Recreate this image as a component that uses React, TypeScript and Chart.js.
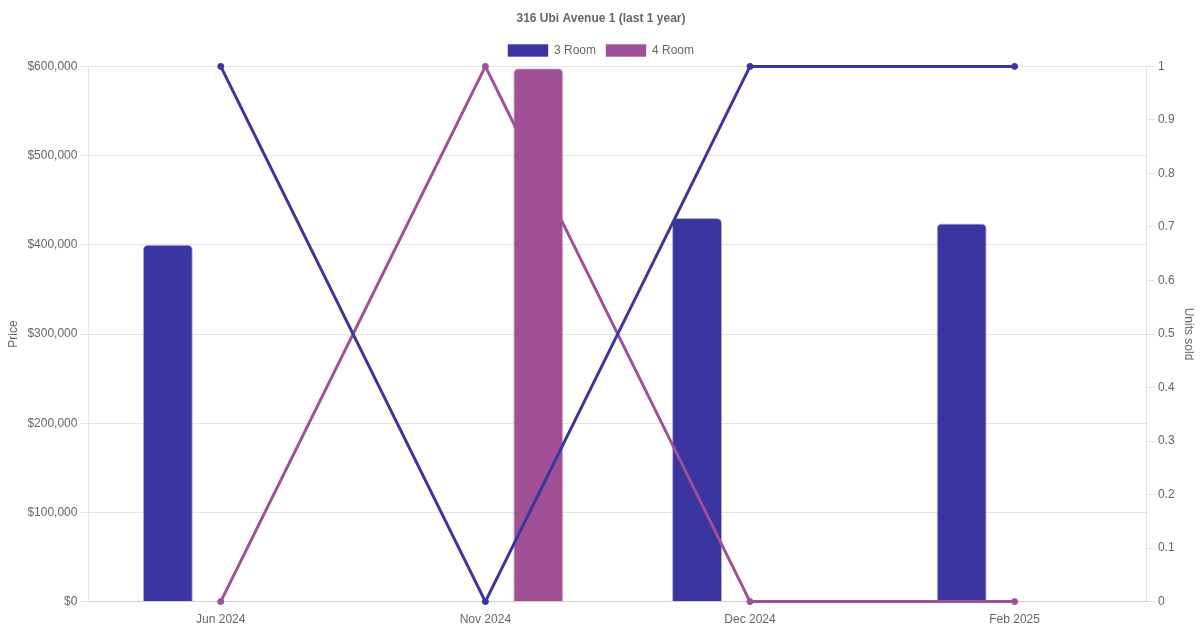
import React, { useEffect, useRef } from "react";
import Chart from "chart.js/auto";

const months = ["Jun 2024", "Nov 2024", "Dec 2024", "Feb 2025"];
const price3Room = [400000, null, 430000, 424000];
const price4Room = [null, 598000, null, null];
const units3Room = [1, 0, 1, 1];
const units4Room = [0, 1, 0, 0];

const ROOM3_COLOR = "rgb(58,53,160)";
const ROOM4_COLOR = "rgb(160,80,148)";

const App = () => {
  const chartRef = useRef<HTMLCanvasElement>(null);

  useEffect(() => {
    if (!chartRef.current) return;
    const ctx = chartRef.current.getContext("2d");
    if (!ctx) return;

    const priceChart = new Chart(ctx, {
      type: "bar",
      data: {
        labels: months,
        datasets: [
          {
            type: "line",
            label: "3 Room units",
            data: units3Room,
            yAxisID: "units",
            borderColor: ROOM3_COLOR,
            backgroundColor: ROOM3_COLOR,
            borderWidth: 3,
            pointRadius: 3,
            pointBorderWidth: 1,
            fill: false,
            clip: false,
            order: 0,
          },
          {
            type: "line",
            label: "4 Room units",
            data: units4Room,
            yAxisID: "units",
            borderColor: ROOM4_COLOR,
            backgroundColor: ROOM4_COLOR,
            borderWidth: 3,
            pointRadius: 3,
            pointBorderWidth: 1,
            fill: false,
            clip: false,
            order: 0,
          },
          {
            label: "3 Room",
            data: price3Room,
            yAxisID: "price",
            backgroundColor: ROOM3_COLOR,
            borderColor: "rgba(58,53,160,0.4)",
            borderWidth: 1,
            borderRadius: 5,
            borderSkipped: "bottom",
            maxBarThickness: 50,
            order: 1,
          },
          {
            label: "4 Room",
            data: price4Room,
            yAxisID: "price",
            backgroundColor: ROOM4_COLOR,
            borderColor: "rgba(160,80,148,0.4)",
            borderWidth: 1,
            borderRadius: 5,
            borderSkipped: "bottom",
            maxBarThickness: 50,
            order: 1,
          },
        ],
      },
      options: {
        responsive: true,
        maintainAspectRatio: false,
        animation: false,
        layout: { padding: { top: 2, right: 0, left: 2, bottom: 0 } },
        plugins: {
          title: {
            display: true,
            text: "316 Ubi Avenue 1 (last 1 year)",
            color: "#666",
            font: { size: 12, weight: "bold" },
            padding: { top: 9, bottom: 9 },
          },
          legend: {
            labels: {
              color: "#666",
              font: { size: 12 },
              filter: (item) => item.text === "3 Room" || item.text === "4 Room",
            },
          },
          tooltip: { enabled: false },
        },
        scales: {
          x: {
            grid: { display: false },
            ticks: { color: "#666", font: { size: 12 } },
          },
          price: {
            type: "linear",
            position: "left",
            min: 0,
            max: 600000,
            ticks: {
              stepSize: 100000,
              color: "#666",
              font: { size: 12 },
              callback: (v) => "$" + Number(v).toLocaleString("en-US"),
            },
            title: { display: true, text: "Price", color: "#666", font: { size: 12 } },
          },
          units: {
            type: "linear",
            position: "right",
            min: 0,
            max: 1,
            ticks: {
              stepSize: 0.1,
              color: "#666",
              font: { size: 12 },
              callback: (v) => String(Math.round(Number(v) * 10) / 10),
            },
            grid: { drawOnChartArea: false },
            title: { display: true, text: "Units sold", color: "#666", font: { size: 12 } },
          },
        },
      },
    });

    return () => {
      priceChart.destroy();
    };
  }, []);

  return (
    <div style={{ position: "fixed", left: 0, top: 0, width: 1200, height: 630, background: "#fff" }}>
      <canvas ref={chartRef}></canvas>
    </div>
  );
};

export default App;
